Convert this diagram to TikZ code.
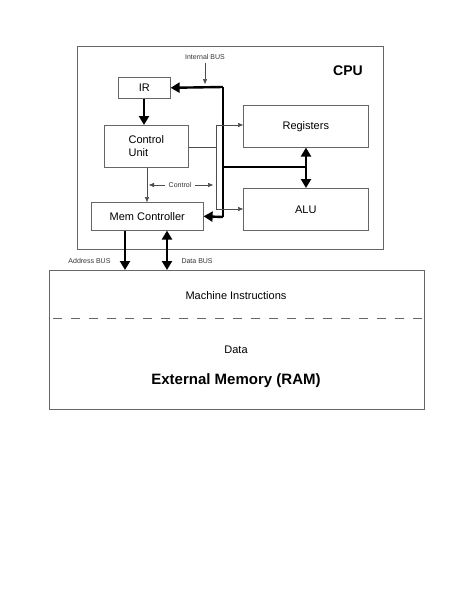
\documentclass[tikz,border=0pt]{standalone}
\usepackage{fontspec}
\setmainfont{Liberation Sans}
\usetikzlibrary{arrows.meta}
\begin{document}
\begin{tikzpicture}[x=1pt,y=-1pt,
 box/.style={draw=black!60,line width=0.6pt,inner sep=0},
 thk/.style={line width=2.4pt,-{Triangle[length=9pt,width=10pt]}},
 dthk/.style={line width=2.4pt,{Triangle[length=9pt,width=10pt]}-{Triangle[length=9pt,width=10pt]}},
 thn/.style={line width=0.5pt,draw=black!70,-{Triangle[length=5pt,width=4pt]}},
 lbl/.style={font=\fontsize{11}{13}\selectfont},
 sml/.style={font=\fontsize{7}{8.5}\selectfont,text=black!80}]
\useasboundingbox (0,0) rectangle (471,610);
\node[box,minimum width=306,minimum height=203,anchor=north west] (cpu) at (77,46) {};
\node[font=\fontsize{14}{16}\selectfont\bfseries] (cpul) at (348,71) {CPU};
\node[box,lbl,minimum width=52,minimum height=21,anchor=north west] (ir) at (118,77) {IR};
\node[box,lbl,minimum width=84,minimum height=42,anchor=north west,align=left] (cu) at (104,125) {Control\\Unit};
\node[box,lbl,minimum width=112,minimum height=28,anchor=north west] (mc) at (91,202) {Mem Controller};
\node[box,lbl,minimum width=125,minimum height=42,anchor=north west] (reg) at (243,105) {Registers};
\node[box,lbl,minimum width=125,minimum height=42,anchor=north west] (alu) at (243,188) {ALU};
\node[box,minimum width=375,minimum height=139,anchor=north west] (mem) at (49,270) {};
\node[lbl] (mi) at (236,296) {Machine Instructions};
\node[lbl] (dt) at (236,350) {Data};
\node[font=\fontsize{15}{17}\selectfont\bfseries] (em) at (236,381) {External Memory (RAM)};
\draw[draw=black!60,dash pattern=on 9pt off 9pt,dash phase=-4pt] (mem.west|-0,318) -- (mem.east|-0,318);
% internal bus
\coordinate (bt) at (223,87);
\coordinate (bb) at (223,217);
\draw[line width=2.4pt] (bt) -- (bb);
\draw[thk] (bt) -- (ir.east);
\draw[thk] (bb) -- (mc.east);
\coordinate (bh) at (306,167);
\draw[line width=2.4pt] (223,167) -- (bh);
\draw[dthk] (reg.south-|bh) -- (alu.north-|bh);
\node[sml] (ib) at (205,57) {Internal BUS};
\draw[thn] (ib.south) -- (205,84);
% control
\draw[thk] (ir.south-|144,0) -- (cu.north-|144,0);
\draw[line width=0.5pt,draw=black!70] (cu.east|-0,147) -- (216,147);
\draw[line width=0.5pt,draw=black!70] (216,125) -- (216,209);
\draw[thn] (216,125) -- (reg.west|-0,125);
\draw[thn] (216,209) -- (alu.west|-0,209);
\draw[thn] (cu.south-|147,0) -- (mc.north-|147,0);
\node[sml] (ctl) at (180,185) {Control};
\draw[thn] (ctl.west) -- (149,185);
\draw[thn] (ctl.east) -- (213,185);
% external buses
\draw[thk] (mc.south-|125,0) -- (mem.north-|125,0);
\draw[dthk] (mc.south-|167,0) -- (mem.north-|167,0);
\node[sml,anchor=east] (ab) at (114,261) {Address BUS};
\node[sml,anchor=west] (db) at (178,261) {Data BUS};
\end{tikzpicture}
\end{document}
